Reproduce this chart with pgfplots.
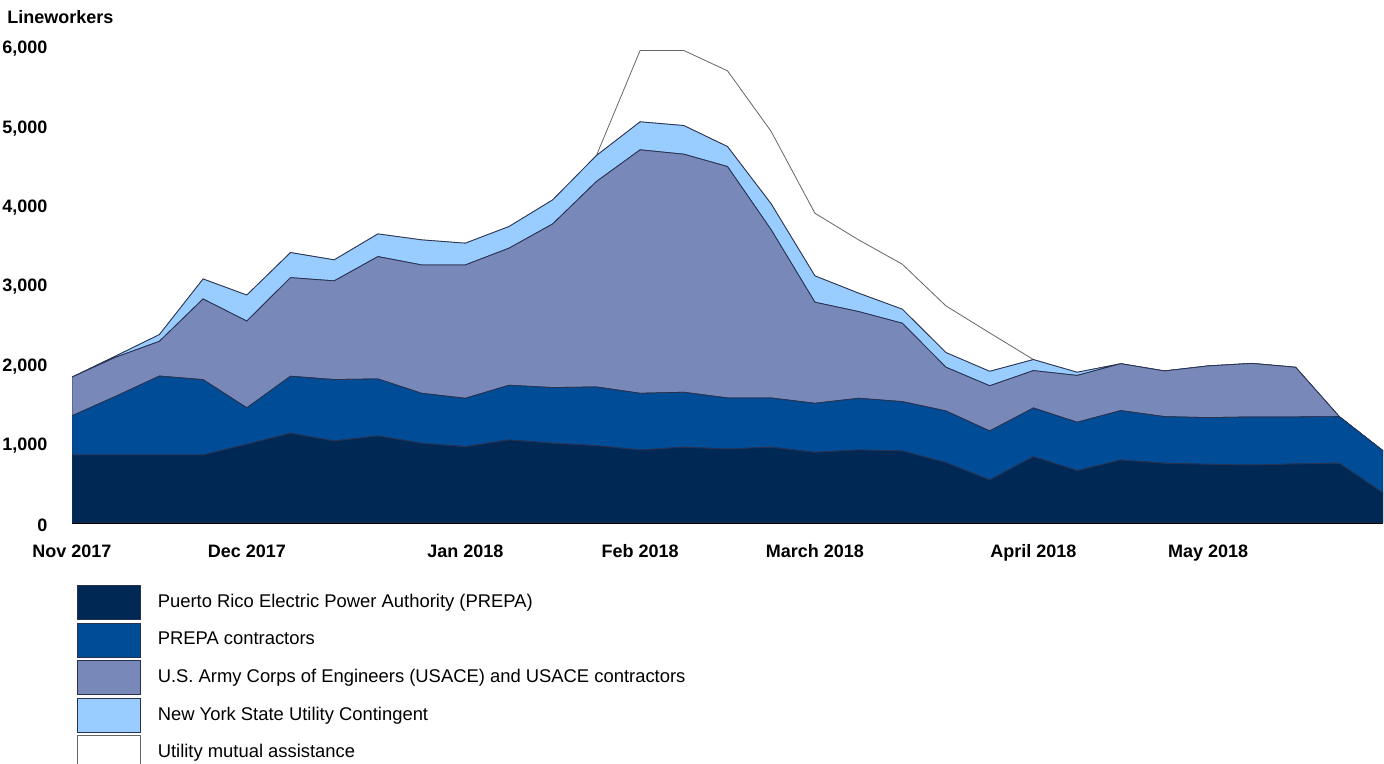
\documentclass[border=0pt]{standalone}
\usepackage{pgfplots}
\usepackage{pgfplotstable}
\pgfplotsset{compat=1.18}
\usepackage{fontspec}
\setmainfont{Liberation Sans}
\definecolor{cPrepa}{RGB}{0,40,85}
\definecolor{cContr}{RGB}{0,76,150}
\definecolor{cUsace}{RGB}{120,137,185}
\definecolor{cNy}{RGB}{153,204,255}
\definecolor{cEdge}{RGB}{40,50,80}
\pgfplotstableread{
k prepa contr usace ny mutual
0 857 494 488 0 0
1 857 740 493 15 0
2 857 995 438 85 0
3 857 950 1017 252 0
4 992 460 1093 328 0
5 1131 719 1243 316 0
6 1034 774 1244 265 0
7 1097 719 1542 286 0
8 1005 630 1618 316 0
9 962 610 1681 274 0
10 1047 689 1728 273 0
11 1005 702 2063 303 0
12 975 740 2589 328 0
13 920 715 3069 353 899
14 955 693 3001 361 946
15 933 643 2917 252 955
16 955 621 2119 327 913
17 891 618 1274 332 790
18 920 652 1093 232 672
19 908 622 988 177 567
20 760 652 551 185 588
21 542 618 570 182 484
22 836 614 471 139 0
23 660 610 590 40 0
24 794 623 591 0 0
25 753 588 576 0 0
26 740 588 652 0 0
27 731 606 675 0 0
28 744 593 626 0 0
29 753 588 0 0 0
30 378 532 0 0 0
}\datatable
\begin{document}
\begin{tikzpicture}
\useasboundingbox (0,0) rectangle (692pt,382pt);
\node[anchor=base west, inner sep=0pt, font=\bfseries\fontsize{9pt}{10pt}\selectfont] at (3.5pt,370pt) {Lineworkers};
\begin{axis}[
  at={(36pt,120.5pt)}, anchor=south west,
  scale only axis, width=655.5pt, height=238pt,
  xmin=0, xmax=30, ymin=0, ymax=6000,
  stack plots=y,
  axis lines=left,
  y axis line style={draw=none},
  x axis line style={draw=black, line width=1pt, -},
  tick style={draw=none},
  xtick={0,4,9,13,17,22,26},
  xticklabels={Nov 2017, Dec 2017, Jan 2018, Feb 2018, March 2018, April 2018, May 2018},
  ytick={0,1000,2000,3000,4000,5000,6000},
  yticklabels={0,{1,000},{2,000},{3,000},{4,000},{5,000},{6,000}},
  /pgf/number format/assume math mode=true,
  ticklabel style={font=\bfseries\fontsize{9pt}{10pt}\selectfont},
  yticklabel style={anchor=east, inner sep=0pt, xshift=-10pt, yshift=-1pt},
  xticklabel style={anchor=north, inner sep=0pt, yshift=-8.5pt},
  legend style={at={(0,0)}, anchor=north west, xshift=2.5pt, yshift=-31pt,
    draw=none, fill=none, inner sep=0pt, outer sep=0pt, row sep=1.35pt,
    font=\fontsize{9.2pt}{10pt}\selectfont,
    nodes={inner sep=0pt}, cells={anchor=west},
    /tikz/every odd column/.append style={column sep=8.5pt}},
  legend cell align=left,
  legend image code/.code={\draw[#1, line width=0.4pt] (0pt,-8.5pt) rectangle (31.5pt,8.5pt);},
]
\addplot[fill=cPrepa, draw=cEdge, line width=0.4pt] table[x=k, y=prepa] {\datatable} \closedcycle;
\addlegendentry{Puerto Rico Electric Power Authority (PREPA)}
\addplot[fill=cContr, draw=cEdge, line width=0.4pt] table[x=k, y=contr] {\datatable} \closedcycle;
\addlegendentry{PREPA contractors}
\addplot[fill=cUsace, draw=cEdge, line width=0.4pt] table[x=k, y=usace] {\datatable} \closedcycle;
\addlegendentry{U.S. Army Corps of Engineers (USACE) and USACE contractors}
\addplot[fill=cNy, draw=cEdge, line width=0.4pt] table[x=k, y=ny] {\datatable} \closedcycle;
\addlegendentry{New York State Utility Contingent}
\addplot[fill=white, draw=black!60, line width=0.4pt] table[x=k, y=mutual] {\datatable} \closedcycle;
\addlegendentry{Utility mutual assistance}
\end{axis}
\end{tikzpicture}
\end{document}
